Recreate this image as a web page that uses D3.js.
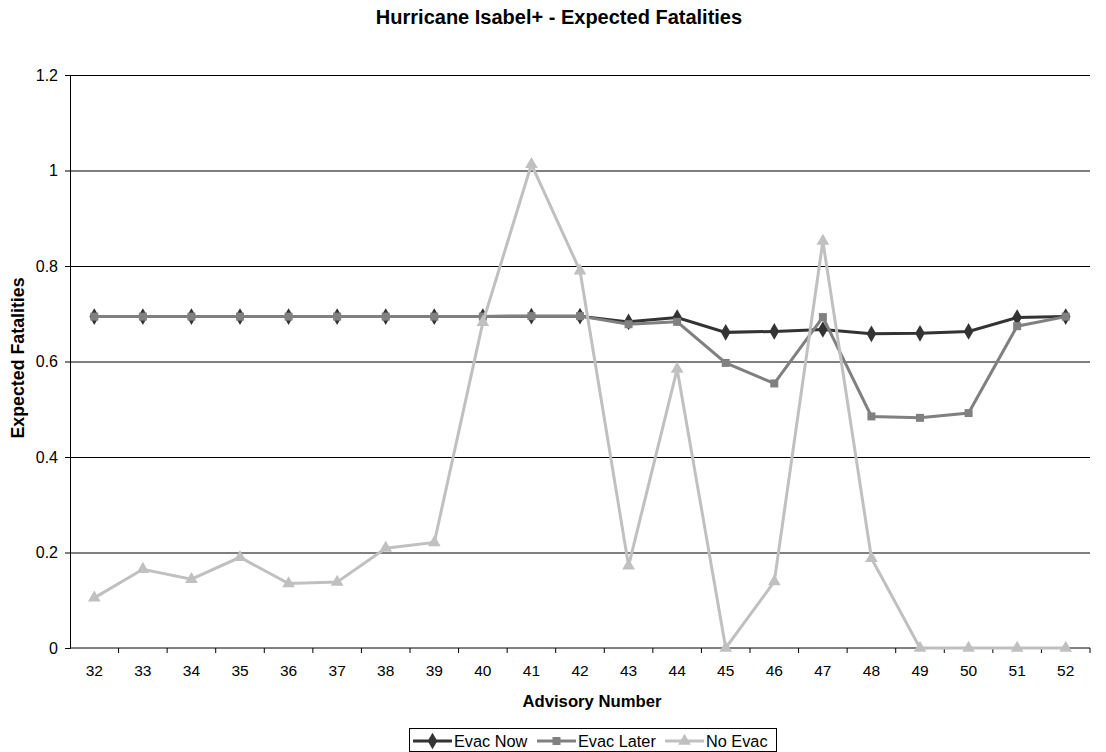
<!DOCTYPE html>
<html>
<head>
<meta charset="utf-8">
<style>
    body { margin: 0; background: #fff; }
    svg { font-family: 'Liberation Sans', Arial, sans-serif; }
    .grid line { stroke: #000; stroke-width: 1; }
    .grid .domain { display: none; }
    .axis text { fill: #000; }
    .axis line, .axis path { stroke: #000; }
    .title { font-size: 20px; font-weight: bold; }
    .axis-label { font-weight: bold; }
    .legend text { font-size: 16.3px; }
</style>
</head>
<body>
<svg width="1106" height="752"></svg>
<script src="https://d3js.org/d3.v7.min.js"></script>
<script>
    // advisory numbers
    let advisories = [32, 33, 34, 35, 36, 37, 38, 39, 40, 41, 42, 43, 44, 45, 46, 47, 48, 49, 50, 51, 52];

    let evacNow = [0.694, 0.694, 0.694, 0.694, 0.694, 0.694, 0.694, 0.694, 0.694, 0.695, 0.695,
        0.683, 0.692, 0.661, 0.663, 0.667, 0.658, 0.659, 0.663, 0.692, 0.694];
    let evacLater = [0.694, 0.694, 0.694, 0.694, 0.694, 0.694, 0.694, 0.694, 0.694, 0.695, 0.695,
        0.678, 0.683, 0.597, 0.554, 0.693, 0.485, 0.482, 0.492, 0.674, 0.694];
    let noEvac = [0.105, 0.165, 0.144, 0.190, 0.135, 0.138, 0.209, 0.221, 0.682, 1.013, 0.790,
        0.172, 0.584, 0, 0.139, 0.852, 0.188, 0, 0, 0, 0];

    let yTicks = [0, 0.2, 0.4, 0.6, 0.8, 1, 1.2];

    let seriesNames = ["Evac Now", "Evac Later", "No Evac"];
    let seriesColors = ["#333333", "#808080", "#c0c0c0"];
    let seriesSymbols = [d3.symbolDiamond, d3.symbolSquare, d3.symbolTriangle];

    let series = [evacNow, evacLater, noEvac].map((vals, i) => ({
        name: seriesNames[i],
        color: seriesColors[i],
        symbol: seriesSymbols[i],
        values: vals.map((v, j) => ({ adv: advisories[j], value: v }))
    }));

    let margin = { top: 75, right: 16, bottom: 104, left: 70 };
    let width = 1106, height = 752;

    let svg = d3.select("svg");

    let x = d3.scaleBand()
        .domain(advisories)
        .range([margin.left, width - margin.right]);

    let y = d3.scaleLinear()
        .domain([0, 1.2])
        .range([height - margin.bottom, margin.top]);

    let symbolSize = s => s === d3.symbolDiamond ? 80 : (s === d3.symbolSquare ? 64 : 70);

    // gridlines
    svg.append("g")
        .attr("class", "grid")
        .attr("transform", `translate(${margin.left},0)`)
        .call(d3.axisLeft(y).tickValues(yTicks.slice(1)).tickSize(-(width - margin.left - margin.right)).tickFormat(""));

    // y axis
    svg.append("g")
        .attr("class", "axis")
        .attr("transform", `translate(${margin.left},0)`)
        .call(d3.axisLeft(y).tickValues(yTicks).tickSize(5).tickPadding(7).tickFormat(d3.format("")))
        .call(g => g.selectAll("text").style("font-size", "16px"));

    // x axis (ticks between categories)
    let xAxis = svg.append("g")
        .attr("class", "axis")
        .attr("transform", `translate(0,${height - margin.bottom})`)
        .call(d3.axisBottom(x).tickSize(0).tickPadding(17))
        .call(g => g.selectAll("text").style("font-size", "15.5px"));
    xAxis.select(".domain").attr("d", `M${margin.left},0H${width - margin.right}`);
    xAxis.selectAll(".sep")
        .data(advisories)
        .join("line")
        .attr("class", "sep")
        .attr("x1", d => x(d) + x.bandwidth())
        .attr("x2", d => x(d) + x.bandwidth())
        .attr("y1", 0)
        .attr("y2", 5)
        .attr("stroke", "#000");

    let line = d3.line()
        .x(d => x(d.adv) + x.bandwidth() / 2)
        .y(d => y(d.value));

    // series drawn in order, later ones on top (like the original)
    series.forEach(s => {
        svg.append("path")
            .datum(s.values)
            .attr("fill", "none")
            .attr("stroke", s.color)
            .attr("stroke-width", 3)
            .attr("d", line);

        svg.append("g")
            .selectAll("path")
            .data(s.values)
            .join("path")
            .attr("transform", d => `translate(${x(d.adv) + x.bandwidth() / 2},${y(d.value)})`)
            .attr("d", d3.symbol().type(s.symbol).size(symbolSize(s.symbol)))
            .attr("fill", s.color);
    });

    // title
    svg.append("text")
        .attr("class", "title")
        .attr("x", 559)
        .attr("y", 24)
        .attr("text-anchor", "middle")
        .text("Hurricane Isabel+ - Expected Fatalities");

    svg.append("text")
        .attr("class", "axis-label")
        .attr("x", 592)
        .attr("y", 707)
        .attr("text-anchor", "middle")
        .style("font-size", "16.7px")
        .text("Advisory Number");

    svg.append("text")
        .attr("class", "axis-label")
        .attr("transform", "translate(24,358) rotate(-90)")
        .attr("text-anchor", "middle")
        .style("font-size", "17.8px")
        .text("Expected Fatalities");

    // legend
    let legend = svg.append("g").attr("class", "legend");
    legend.append("rect")
        .attr("x", 409.5).attr("y", 728.5)
        .attr("width", 367).attr("height", 23)
        .attr("fill", "#fff").attr("stroke", "#000");

    let legendX = [413, 537, 665];
    series.forEach((s, i) => {
        let g = legend.append("g").attr("transform", `translate(${legendX[i]},741)`);
        g.append("line").attr("x1", 0).attr("x2", 39).attr("stroke", s.color).attr("stroke-width", 3);
        g.append("path")
            .attr("transform", "translate(19.5,0)")
            .attr("d", d3.symbol().type(s.symbol).size(symbolSize(s.symbol)))
            .attr("fill", s.color);
        g.append("text").attr("x", 41).attr("y", 6).text(s.name);
    });
</script>
</body>
</html>
